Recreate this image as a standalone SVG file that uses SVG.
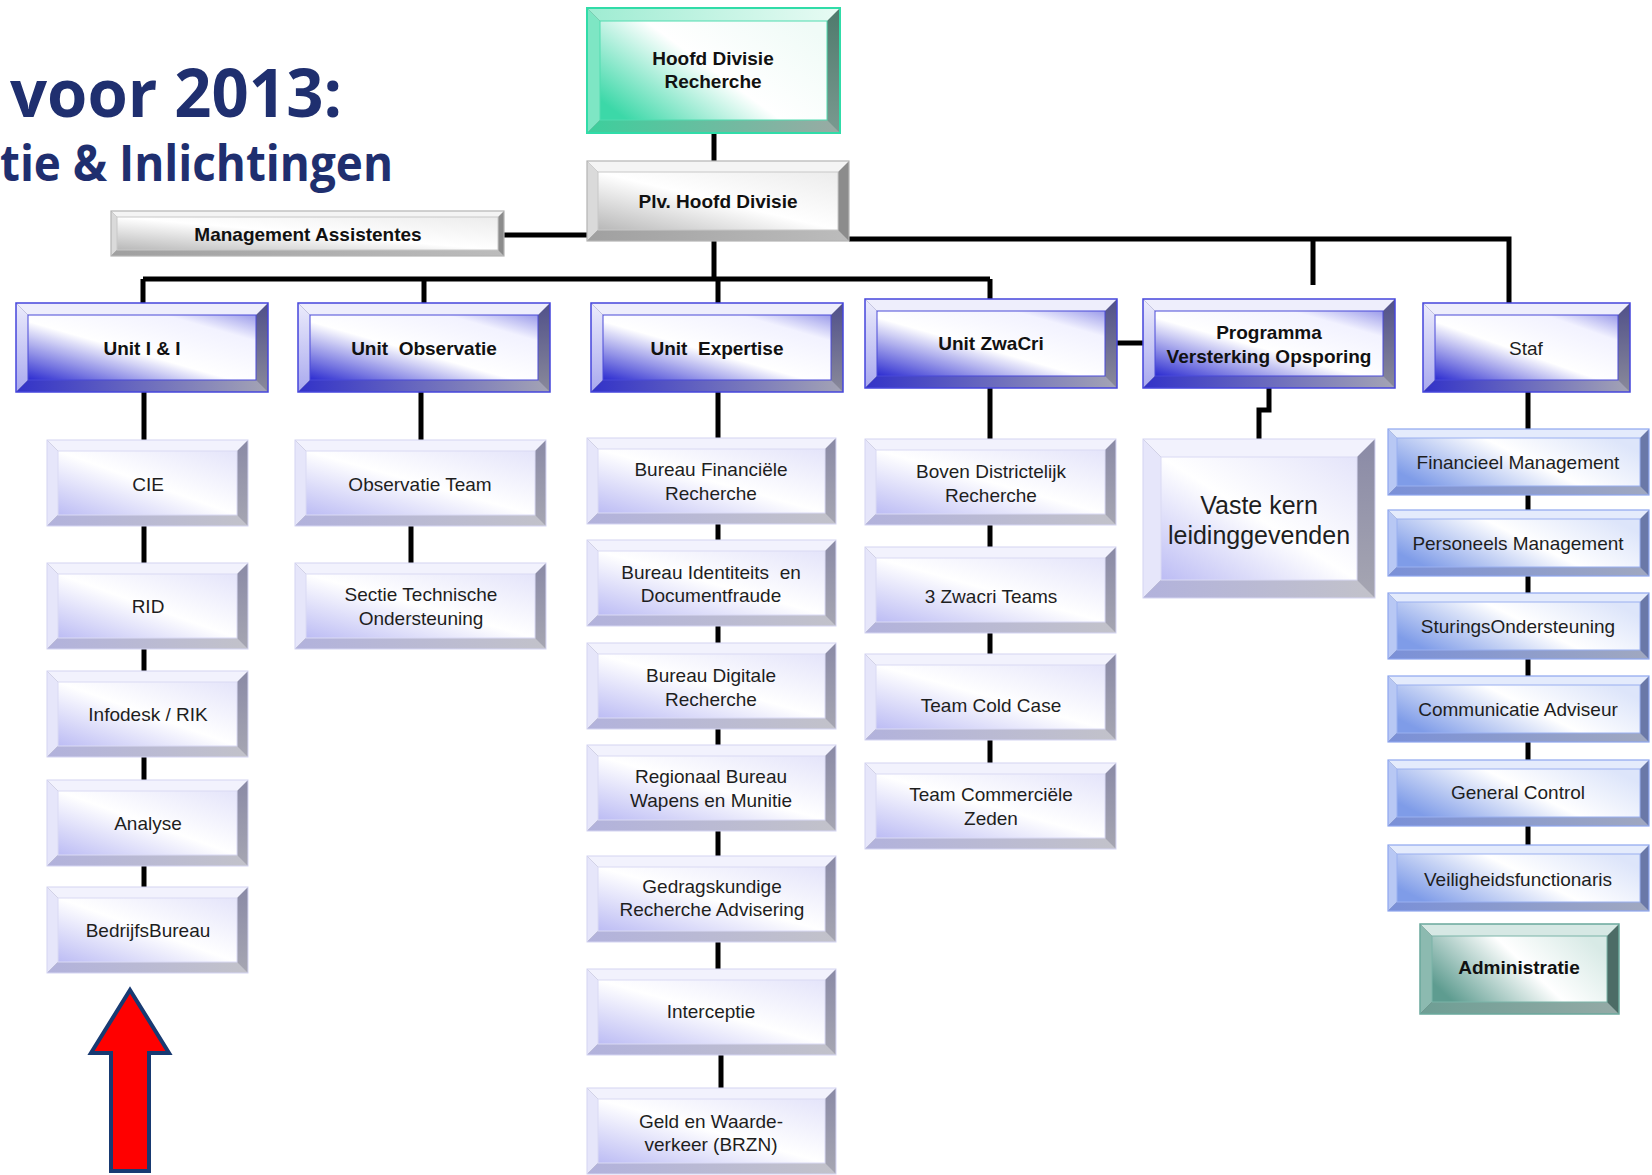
<svg xmlns="http://www.w3.org/2000/svg" xmlns:xlink="http://www.w3.org/1999/xlink" width="1652" height="1175" viewBox="0 0 1652 1175">
<style>
.t{font-family:"Liberation Sans",Arial,sans-serif;font-size:19px;fill:#1e1e1e;text-anchor:middle}
.b{font-weight:bold;fill:#111}
.big{font-size:25px}
.ttl{font-family:"Open Sans","Noto Sans",sans-serif;font-weight:bold;fill:#1f2f6f}
.cn{fill:none;stroke:#000;stroke-width:5;stroke-linejoin:miter}
</style>
<defs>
<!-- blue unit -->
<linearGradient id="gUf" x1="0" y1="1" x2="1" y2="0"><stop offset="0" stop-color="#2b2bd0"/><stop offset="0.45" stop-color="#ffffff"/><stop offset="0.8" stop-color="#f2f2ff"/><stop offset="1" stop-color="#9c9cea"/></linearGradient>
<linearGradient id="gUb" x1="0" y1="0" x2="1" y2="0"><stop offset="0" stop-color="#3232c8"/><stop offset="1" stop-color="#a4a4b4"/></linearGradient>
<linearGradient id="gUr" x1="0" y1="0" x2="0" y2="1"><stop offset="0" stop-color="#50508a"/><stop offset="1" stop-color="#8a8a9a"/></linearGradient>
<linearGradient id="gUl" x1="0" y1="0" x2="0" y2="1"><stop offset="0" stop-color="#ececfc"/><stop offset="1" stop-color="#a8a8ee"/></linearGradient>
<!-- lavender child -->
<linearGradient id="gLf" x1="0" y1="1" x2="1" y2="0"><stop offset="0" stop-color="#bcbcf4"/><stop offset="0.5" stop-color="#ffffff"/><stop offset="1" stop-color="#e4e4fa"/></linearGradient>
<linearGradient id="gLb" x1="0" y1="0" x2="1" y2="0"><stop offset="0" stop-color="#b2b2dc"/><stop offset="1" stop-color="#c2c2ca"/></linearGradient>
<linearGradient id="gLr" x1="0" y1="0" x2="0" y2="1"><stop offset="0" stop-color="#8a8aa6"/><stop offset="1" stop-color="#a6a6b2"/></linearGradient>
<!-- staf child -->
<linearGradient id="gSf" x1="0" y1="0.7" x2="1" y2="0.3"><stop offset="0" stop-color="#7f9ce8"/><stop offset="0.55" stop-color="#ffffff"/><stop offset="1" stop-color="#dde5fa"/></linearGradient>
<linearGradient id="gSb" x1="0" y1="0" x2="1" y2="0"><stop offset="0" stop-color="#7a90d8"/><stop offset="1" stop-color="#a0a8c0"/></linearGradient>
<!-- hoofd -->
<linearGradient id="gHf" x1="0" y1="0.8" x2="1" y2="0.2"><stop offset="0" stop-color="#3cd8a8"/><stop offset="0.5" stop-color="#ffffff"/><stop offset="1" stop-color="#f0fbf7"/></linearGradient>
<linearGradient id="gHb" x1="0" y1="0" x2="1" y2="0"><stop offset="0" stop-color="#3ccf9c"/><stop offset="1" stop-color="#9aaaa4"/></linearGradient>
<linearGradient id="gHr" x1="0" y1="0" x2="0" y2="1"><stop offset="0" stop-color="#4e7a6c"/><stop offset="1" stop-color="#7a9a90"/></linearGradient>
<linearGradient id="gHt" x1="0" y1="0" x2="1" y2="0"><stop offset="0" stop-color="#9eecd2"/><stop offset="1" stop-color="#e8fbf4"/></linearGradient>
<!-- gray -->
<linearGradient id="gGf" x1="0" y1="1" x2="1" y2="0"><stop offset="0" stop-color="#b8b8b8"/><stop offset="0.5" stop-color="#ffffff"/><stop offset="1" stop-color="#ececec"/></linearGradient>
<linearGradient id="gGb" x1="0" y1="0" x2="1" y2="0"><stop offset="0" stop-color="#a0a0a0"/><stop offset="1" stop-color="#bcbcbc"/></linearGradient>
<!-- admin -->
<linearGradient id="gAf" x1="0" y1="0.7" x2="1" y2="0.3"><stop offset="0" stop-color="#5e9c90"/><stop offset="0.55" stop-color="#ffffff"/><stop offset="1" stop-color="#d8eae6"/></linearGradient>
<linearGradient id="gAb" x1="0" y1="0" x2="1" y2="0"><stop offset="0" stop-color="#6e9e94"/><stop offset="1" stop-color="#94aaa6"/></linearGradient>

<g id="shpU252">
 <rect width="252" height="89" fill="url(#gUr)"/>
 <polygon points="0,0 252,0 240,12 12,12" fill="#eeeefc"/>
 <polygon points="0,0 12,12 12,77 0,89" fill="url(#gUl)"/>
 <polygon points="0,89 12,77 240,77 252,89" fill="url(#gUb)"/>
 <rect x="12" y="12" width="228" height="65" fill="url(#gUf)" stroke="#4a4ad8" stroke-width="1"/>
 <rect width="252" height="89" fill="none" stroke="#4646dc" stroke-width="1.5"/>
</g>
<g id="shpU207">
 <rect width="207" height="89" fill="url(#gUr)"/>
 <polygon points="0,0 207,0 195,12 12,12" fill="#eeeefc"/>
 <polygon points="0,0 12,12 12,77 0,89" fill="url(#gUl)"/>
 <polygon points="0,89 12,77 195,77 207,89" fill="url(#gUb)"/>
 <rect x="12" y="12" width="183" height="65" fill="url(#gUf)" stroke="#4a4ad8" stroke-width="1"/>
 <rect width="207" height="89" fill="none" stroke="#4646dc" stroke-width="1.5"/>
</g>
<g id="shpC201">
 <rect width="201" height="86" fill="url(#gLr)"/>
 <polygon points="0,0 201,0 190,11 11,11" fill="#f2f2fd"/>
 <polygon points="0,0 11,11 11,75 0,86" fill="#e6e6fa"/>
 <polygon points="0,86 11,75 190,75 201,86" fill="url(#gLb)"/>
 <rect x="11" y="11" width="179" height="64" fill="url(#gLf)" stroke="#dadaf4" stroke-width="1"/>
 <rect width="201" height="86" fill="none" stroke="#d4d4f2" stroke-width="1"/>
</g>
<g id="shpC251">
 <rect width="251" height="86" fill="url(#gLr)"/>
 <polygon points="0,0 251,0 240,11 11,11" fill="#f2f2fd"/>
 <polygon points="0,0 11,11 11,75 0,86" fill="#e6e6fa"/>
 <polygon points="0,86 11,75 240,75 251,86" fill="url(#gLb)"/>
 <rect x="11" y="11" width="229" height="64" fill="url(#gLf)" stroke="#dadaf4" stroke-width="1"/>
 <rect width="251" height="86" fill="none" stroke="#d4d4f2" stroke-width="1"/>
</g>
<g id="shpC249">
 <rect width="249" height="86" fill="url(#gLr)"/>
 <polygon points="0,0 249,0 238,11 11,11" fill="#f2f2fd"/>
 <polygon points="0,0 11,11 11,75 0,86" fill="#e6e6fa"/>
 <polygon points="0,86 11,75 238,75 249,86" fill="url(#gLb)"/>
 <rect x="11" y="11" width="227" height="64" fill="url(#gLf)" stroke="#dadaf4" stroke-width="1"/>
 <rect width="249" height="86" fill="none" stroke="#d4d4f2" stroke-width="1"/>
</g>
<g id="shpS261">
 <rect width="261" height="66" fill="#6a78a8"/>
 <polygon points="0,0 261,0 252,9 9,9" fill="#e4ebfc"/>
 <polygon points="0,0 9,9 9,57 0,66" fill="#b8c8f4"/>
 <polygon points="0,66 9,57 252,57 261,66" fill="url(#gSb)"/>
 <rect x="9" y="9" width="243" height="48" fill="url(#gSf)" stroke="#9ab0f0" stroke-width="1"/>
 <rect width="261" height="66" fill="none" stroke="#8ea6ee" stroke-width="1.2"/>
</g>
<g id="shpH">
 <rect width="253" height="125" fill="url(#gHr)"/>
 <polygon points="0,0 253,0 240,13 13,13" fill="url(#gHt)"/>
 <polygon points="0,0 13,13 13,112 0,125" fill="#7ee6c4"/>
 <polygon points="0,125 13,112 240,112 253,125" fill="url(#gHb)"/>
 <rect x="13" y="13" width="227" height="99" fill="url(#gHf)" stroke="#50dcb0" stroke-width="1"/>
 <rect width="253" height="125" fill="none" stroke="#30dca8" stroke-width="2"/>
</g>
<g id="shpP">
 <rect width="262" height="80" fill="#8c8c8c"/>
 <polygon points="0,0 262,0 251,11 11,11" fill="#f4f4f4"/>
 <polygon points="0,0 11,11 11,69 0,80" fill="#dadada"/>
 <polygon points="0,80 11,69 251,69 262,80" fill="url(#gGb)"/>
 <rect x="11" y="11" width="240" height="58" fill="url(#gGf)" stroke="#c8c8c8" stroke-width="1"/>
 <rect width="262" height="80" fill="none" stroke="#b4b4b4" stroke-width="1.2"/>
</g>
<g id="shpM">
 <rect width="393" height="45" fill="#8c8c8c"/>
 <polygon points="0,0 393,0 387,6 6,6" fill="#f4f4f4"/>
 <polygon points="0,0 6,6 6,39 0,45" fill="#dadada"/>
 <polygon points="0,45 6,39 387,39 393,45" fill="url(#gGb)"/>
 <rect x="6" y="6" width="381" height="33" fill="url(#gGf)" stroke="#c8c8c8" stroke-width="1"/>
 <rect width="393" height="45" fill="none" stroke="#b4b4b4" stroke-width="1.2"/>
</g>
<g id="shpV">
 <rect width="232" height="159" fill="url(#gLr)"/>
 <polygon points="0,0 232,0 214,18 18,18" fill="#f2f2fd"/>
 <polygon points="0,0 18,18 18,141 0,159" fill="#e6e6fa"/>
 <polygon points="0,159 18,141 214,141 232,159" fill="url(#gLb)"/>
 <rect x="18" y="18" width="196" height="123" fill="url(#gLf)" stroke="#dadaf4" stroke-width="1"/>
 <rect width="232" height="159" fill="none" stroke="#d4d4f2" stroke-width="1"/>
</g>
<g id="shpA">
 <rect width="199" height="90" fill="#4c6c66"/>
 <polygon points="0,0 199,0 187,12 12,12" fill="#d6e8e4"/>
 <polygon points="0,0 12,12 12,78 0,90" fill="#8cbab0"/>
 <polygon points="0,90 12,78 187,78 199,90" fill="url(#gAb)"/>
 <rect x="12" y="12" width="175" height="66" fill="url(#gAf)" stroke="#7ab4a8" stroke-width="1"/>
 <rect width="199" height="90" fill="none" stroke="#6aa89c" stroke-width="1.5"/>
</g>
</defs>

<rect width="1652" height="1175" fill="#ffffff"/>

<g id="title">
 <text class="ttl" x="10" y="117" font-size="66" textLength="332" lengthAdjust="spacingAndGlyphs">voor 2013:</text>
 <text class="ttl" x="0" y="181" font-size="50" textLength="393" lengthAdjust="spacingAndGlyphs">tie &amp; Inlichtingen</text>
</g>

<g id="connectors">
 <path class="cn" d="M714 133V161"/>
 <path class="cn" d="M504 235H587"/>
 <path class="cn" d="M849 239H1509V303"/>
 <path class="cn" d="M1313 239V285"/>
 <path class="cn" d="M714 241V279"/>
 <path class="cn" d="M143 279H990"/>
 <path class="cn" d="M143 279V303M424 279V303M718 279V303M990 279V299"/>
 <path class="cn" d="M1117 343H1143"/>
 <path class="cn" d="M144 392V440M144 649V671M144 757V780M144 866V887"/>
 <path class="cn" d="M144 526V563" stroke-width="8"/>
 <path class="cn" d="M421 392V440M411 526V563"/>
 <path class="cn" d="M718 392V438M718 524V540M718 626V643M718 729V745M718 831V856M718 942V969M721 1055V1088"/>
 <path class="cn" d="M990 388V439M990 525V547M990 633V654M990 740V763"/>
 <path class="cn" d="M1269 388V410H1259V439"/>
 <path class="cn" d="M1528 392V429M1528 495V510M1528 576V593M1528 659V676M1528 742V760M1528 826V845"/>
</g>

<g id="n-hoofd"><use href="#shpH" x="587" y="8"/><text class="t b" x="713" y="65">Hoofd Divisie</text><text class="t b" x="713" y="88">Recherche</text></g>
<g id="n-plv"><use href="#shpP" x="587" y="161"/><text class="t b" x="718" y="208">Plv. Hoofd Divisie</text></g>
<g id="n-mgmt"><use href="#shpM" x="111" y="211"/><text class="t b" x="308" y="241">Management Assistentes</text></g>

<g id="n-unit-ii"><use href="#shpU252" x="16" y="303"/><text class="t b" x="142" y="355">Unit I &amp; I</text></g>
<g id="n-unit-obs"><use href="#shpU252" x="298" y="303"/><text class="t b" x="424" y="355" xml:space="preserve">Unit  Observatie</text></g>
<g id="n-unit-exp"><use href="#shpU252" x="591" y="303"/><text class="t b" x="717" y="355" xml:space="preserve">Unit  Expertise</text></g>
<g id="n-unit-zwacri"><use href="#shpU252" x="865" y="299"/><text class="t b" x="991" y="350">Unit ZwaCri</text></g>
<g id="n-programma"><use href="#shpU252" x="1143" y="299"/><text class="t b" x="1269" y="339">Programma</text><text class="t b" x="1269" y="363">Versterking Opsporing</text></g>
<g id="n-staf"><use href="#shpU207" x="1423" y="303"/><text class="t" x="1526" y="355">Staf</text></g>

<g id="n-cie"><use href="#shpC201" x="47" y="440"/><text class="t" x="148" y="491">CIE</text></g>
<g id="n-rid"><use href="#shpC201" x="47" y="563"/><text class="t" x="148" y="613">RID</text></g>
<g id="n-infodesk"><use href="#shpC201" x="47" y="671"/><text class="t" x="148" y="721">Infodesk / RIK</text></g>
<g id="n-analyse"><use href="#shpC201" x="47" y="780"/><text class="t" x="148" y="830">Analyse</text></g>
<g id="n-bedrijfsbureau"><use href="#shpC201" x="47" y="887"/><text class="t" x="148" y="937">BedrijfsBureau</text></g>

<g id="n-obsteam"><use href="#shpC251" x="295" y="440"/><text class="t" x="420" y="491">Observatie Team</text></g>
<g id="n-sectie"><use href="#shpC251" x="295" y="563"/><text class="t" x="421" y="601">Sectie Technische</text><text class="t" x="421" y="625">Ondersteuning</text></g>

<g id="n-bfr"><use href="#shpC249" x="587" y="438"/><text class="t" x="711" y="476">Bureau Financiële</text><text class="t" x="711" y="500">Recherche</text></g>
<g id="n-bid"><use href="#shpC249" x="587" y="540"/><text class="t" x="711" y="579" xml:space="preserve">Bureau Identiteits  en</text><text class="t" x="711" y="602">Documentfraude</text></g>
<g id="n-bdr"><use href="#shpC249" x="587" y="643"/><text class="t" x="711" y="682">Bureau Digitale</text><text class="t" x="711" y="706">Recherche</text></g>
<g id="n-rbwm"><use href="#shpC249" x="587" y="745"/><text class="t" x="711" y="783">Regionaal Bureau</text><text class="t" x="711" y="807">Wapens en Munitie</text></g>
<g id="n-gra"><use href="#shpC249" x="587" y="856"/><text class="t" x="712" y="893">Gedragskundige</text><text class="t" x="712" y="916">Recherche Advisering</text></g>
<g id="n-interceptie"><use href="#shpC249" x="587" y="969"/><text class="t" x="711" y="1018">Interceptie</text></g>
<g id="n-geld"><use href="#shpC249" x="587" y="1088"/><text class="t" x="711" y="1128">Geld en Waarde-</text><text class="t" x="711" y="1151">verkeer (BRZN)</text></g>

<g id="n-boven"><use href="#shpC251" x="865" y="439"/><text class="t" x="991" y="478">Boven Districtelijk</text><text class="t" x="991" y="502">Recherche</text></g>
<g id="n-zwacriteams"><use href="#shpC251" x="865" y="547"/><text class="t" x="991" y="603">3 Zwacri Teams</text></g>
<g id="n-coldcase"><use href="#shpC251" x="865" y="654"/><text class="t" x="991" y="712">Team Cold Case</text></g>
<g id="n-zeden"><use href="#shpC251" x="865" y="763"/><text class="t" x="991" y="801">Team Commerciële</text><text class="t" x="991" y="825">Zeden</text></g>

<g id="n-vastekern"><use href="#shpV" x="1143" y="439"/><text class="t big" x="1259" y="514">Vaste kern</text><text class="t big" x="1259" y="544">leidinggevenden</text></g>

<g id="n-financieel"><use href="#shpS261" x="1388" y="429"/><text class="t" x="1518" y="469">Financieel Management</text></g>
<g id="n-personeels"><use href="#shpS261" x="1388" y="510"/><text class="t" x="1518" y="550">Personeels Management</text></g>
<g id="n-sturings"><use href="#shpS261" x="1388" y="593"/><text class="t" x="1518" y="633">SturingsOndersteuning</text></g>
<g id="n-communicatie"><use href="#shpS261" x="1388" y="676"/><text class="t" x="1518" y="716">Communicatie Adviseur</text></g>
<g id="n-general"><use href="#shpS261" x="1388" y="760"/><text class="t" x="1518" y="799">General Control</text></g>
<g id="n-veiligheid"><use href="#shpS261" x="1388" y="845"/><text class="t" x="1518" y="886">Veiligheidsfunctionaris</text></g>
<g id="n-administratie"><use href="#shpA" x="1420" y="924"/><text class="t b" x="1519" y="974">Administratie</text></g>

<g id="arrow"><polygon points="130,990 169,1053 149,1053 149,1171 111,1171 111,1053 91,1053" fill="#ff0000" stroke="#183a72" stroke-width="4" stroke-linejoin="miter"/></g>
</svg>
